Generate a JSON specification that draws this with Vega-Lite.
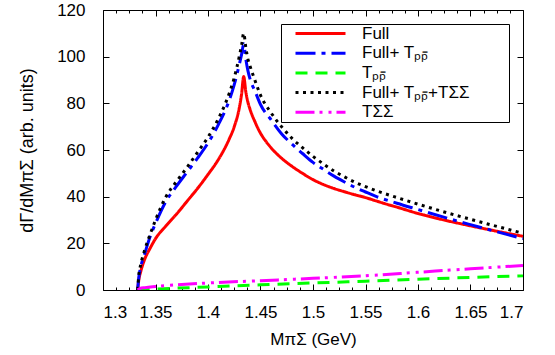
{
  "$schema": "https://vega.github.io/schema/vega-lite/v6.json",
  "width": 420,
  "height": 280,
  "autosize": {"type": "none"},
  "padding": {"left": 103, "top": 10, "right": 32, "bottom": 65},
  "config": {
    "view": {"stroke": "black", "strokeWidth": 1},
    "font": "Liberation Sans",
    "axis": {
      "grid": false,
      "domain": false,
      "labelFont": "Liberation Sans",
      "labelFontSize": 17,
      "labelColor": "black",
      "tickColor": "black",
      "titleFont": "Liberation Sans",
      "titleFontSize": 17,
      "titleFontWeight": "normal",
      "titleColor": "black"
    }
  },
  "data": {
    "values": [
      {"c": "Full", "m": 1.333, "v": 0}, {"c": "Full", "m": 1.334, "v": 4}, {"c": "Full", "m": 1.336, "v": 8},
      {"c": "Full", "m": 1.34, "v": 13.5}, {"c": "Full", "m": 1.345, "v": 18}, {"c": "Full", "m": 1.35, "v": 22},
      {"c": "Full", "m": 1.36, "v": 27.5}, {"c": "Full", "m": 1.37, "v": 32.5}, {"c": "Full", "m": 1.38, "v": 38},
      {"c": "Full", "m": 1.39, "v": 43.5}, {"c": "Full", "m": 1.4, "v": 49.5}, {"c": "Full", "m": 1.41, "v": 56},
      {"c": "Full", "m": 1.42, "v": 64.5}, {"c": "Full", "m": 1.425, "v": 70}, {"c": "Full", "m": 1.43, "v": 78.5},
      {"c": "Full", "m": 1.432, "v": 84}, {"c": "Full", "m": 1.434, "v": 91.5}, {"c": "Full", "m": 1.436, "v": 85},
      {"c": "Full", "m": 1.438, "v": 80.5}, {"c": "Full", "m": 1.44, "v": 77.5}, {"c": "Full", "m": 1.445, "v": 71.8},
      {"c": "Full", "m": 1.45, "v": 67.2}, {"c": "Full", "m": 1.455, "v": 63.8}, {"c": "Full", "m": 1.46, "v": 61}, {"c": "Full", "m": 1.47, "v": 56.5},
      {"c": "Full", "m": 1.48, "v": 53}, {"c": "Full", "m": 1.49, "v": 50}, {"c": "Full", "m": 1.5, "v": 47.3},
      {"c": "Full", "m": 1.51, "v": 45.2}, {"c": "Full", "m": 1.52, "v": 43.5}, {"c": "Full", "m": 1.53, "v": 42.1},
      {"c": "Full", "m": 1.54, "v": 40.8}, {"c": "Full", "m": 1.55, "v": 39.6}, {"c": "Full", "m": 1.56, "v": 38.2},
      {"c": "Full", "m": 1.57, "v": 36.8}, {"c": "Full", "m": 1.58, "v": 35.5}, {"c": "Full", "m": 1.6, "v": 32.8},
      {"c": "Full", "m": 1.62, "v": 30.5}, {"c": "Full", "m": 1.65, "v": 27.5}, {"c": "Full", "m": 1.7, "v": 23},

      {"c": "Full+ Tₚₚ̄", "m": 1.333, "v": 0}, {"c": "Full+ Tₚₚ̄", "m": 1.334, "v": 5}, {"c": "Full+ Tₚₚ̄", "m": 1.336, "v": 10},
      {"c": "Full+ Tₚₚ̄", "m": 1.34, "v": 16}, {"c": "Full+ Tₚₚ̄", "m": 1.345, "v": 23}, {"c": "Full+ Tₚₚ̄", "m": 1.35, "v": 28.5},
      {"c": "Full+ Tₚₚ̄", "m": 1.36, "v": 38}, {"c": "Full+ Tₚₚ̄", "m": 1.37, "v": 44.5}, {"c": "Full+ Tₚₚ̄", "m": 1.38, "v": 50.5},
      {"c": "Full+ Tₚₚ̄", "m": 1.39, "v": 56.5}, {"c": "Full+ Tₚₚ̄", "m": 1.4, "v": 63}, {"c": "Full+ Tₚₚ̄", "m": 1.41, "v": 71},
      {"c": "Full+ Tₚₚ̄", "m": 1.42, "v": 81}, {"c": "Full+ Tₚₚ̄", "m": 1.425, "v": 88}, {"c": "Full+ Tₚₚ̄", "m": 1.43, "v": 97},
      {"c": "Full+ Tₚₚ̄", "m": 1.432, "v": 101}, {"c": "Full+ Tₚₚ̄", "m": 1.434, "v": 105.5}, {"c": "Full+ Tₚₚ̄", "m": 1.436, "v": 99},
      {"c": "Full+ Tₚₚ̄", "m": 1.438, "v": 94}, {"c": "Full+ Tₚₚ̄", "m": 1.44, "v": 90.5}, {"c": "Full+ Tₚₚ̄", "m": 1.445, "v": 85},
      {"c": "Full+ Tₚₚ̄", "m": 1.45, "v": 79.5}, {"c": "Full+ Tₚₚ̄", "m": 1.46, "v": 73}, {"c": "Full+ Tₚₚ̄", "m": 1.47, "v": 67},
      {"c": "Full+ Tₚₚ̄", "m": 1.48, "v": 62.5}, {"c": "Full+ Tₚₚ̄", "m": 1.49, "v": 58.5}, {"c": "Full+ Tₚₚ̄", "m": 1.5, "v": 54.7},
      {"c": "Full+ Tₚₚ̄", "m": 1.51, "v": 51.7}, {"c": "Full+ Tₚₚ̄", "m": 1.52, "v": 48.8}, {"c": "Full+ Tₚₚ̄", "m": 1.53, "v": 46.3},
      {"c": "Full+ Tₚₚ̄", "m": 1.54, "v": 44}, {"c": "Full+ Tₚₚ̄", "m": 1.55, "v": 42}, {"c": "Full+ Tₚₚ̄", "m": 1.56, "v": 40.1},
      {"c": "Full+ Tₚₚ̄", "m": 1.58, "v": 37.2}, {"c": "Full+ Tₚₚ̄", "m": 1.6, "v": 34.5}, {"c": "Full+ Tₚₚ̄", "m": 1.63, "v": 30.5},
      {"c": "Full+ Tₚₚ̄", "m": 1.65, "v": 28}, {"c": "Full+ Tₚₚ̄", "m": 1.7, "v": 22},

      {"c": "Tₚₚ̄", "m": 1.333, "v": 0}, {"c": "Tₚₚ̄", "m": 1.35, "v": 0.4}, {"c": "Tₚₚ̄", "m": 1.4, "v": 1.3},
      {"c": "Tₚₚ̄", "m": 1.45, "v": 2.2}, {"c": "Tₚₚ̄", "m": 1.5, "v": 3.0}, {"c": "Tₚₚ̄", "m": 1.55, "v": 3.8},
      {"c": "Tₚₚ̄", "m": 1.6, "v": 4.6}, {"c": "Tₚₚ̄", "m": 1.65, "v": 5.4}, {"c": "Tₚₚ̄", "m": 1.7, "v": 6.1},

      {"c": "Full+ Tₚₚ̄+TΣΣ", "m": 1.333, "v": 0}, {"c": "Full+ Tₚₚ̄+TΣΣ", "m": 1.334, "v": 6}, {"c": "Full+ Tₚₚ̄+TΣΣ", "m": 1.336, "v": 11},
      {"c": "Full+ Tₚₚ̄+TΣΣ", "m": 1.34, "v": 17.5}, {"c": "Full+ Tₚₚ̄+TΣΣ", "m": 1.345, "v": 24}, {"c": "Full+ Tₚₚ̄+TΣΣ", "m": 1.35, "v": 30},
      {"c": "Full+ Tₚₚ̄+TΣΣ", "m": 1.36, "v": 40}, {"c": "Full+ Tₚₚ̄+TΣΣ", "m": 1.37, "v": 46.5}, {"c": "Full+ Tₚₚ̄+TΣΣ", "m": 1.38, "v": 52.5},
      {"c": "Full+ Tₚₚ̄+TΣΣ", "m": 1.39, "v": 59}, {"c": "Full+ Tₚₚ̄+TΣΣ", "m": 1.4, "v": 65.5}, {"c": "Full+ Tₚₚ̄+TΣΣ", "m": 1.41, "v": 73.5},
      {"c": "Full+ Tₚₚ̄+TΣΣ", "m": 1.42, "v": 84}, {"c": "Full+ Tₚₚ̄+TΣΣ", "m": 1.425, "v": 91}, {"c": "Full+ Tₚₚ̄+TΣΣ", "m": 1.43, "v": 100.5},
      {"c": "Full+ Tₚₚ̄+TΣΣ", "m": 1.432, "v": 105}, {"c": "Full+ Tₚₚ̄+TΣΣ", "m": 1.434, "v": 110}, {"c": "Full+ Tₚₚ̄+TΣΣ", "m": 1.436, "v": 104},
      {"c": "Full+ Tₚₚ̄+TΣΣ", "m": 1.438, "v": 99}, {"c": "Full+ Tₚₚ̄+TΣΣ", "m": 1.44, "v": 96}, {"c": "Full+ Tₚₚ̄+TΣΣ", "m": 1.445, "v": 89.5},
      {"c": "Full+ Tₚₚ̄+TΣΣ", "m": 1.45, "v": 83.5}, {"c": "Full+ Tₚₚ̄+TΣΣ", "m": 1.46, "v": 76}, {"c": "Full+ Tₚₚ̄+TΣΣ", "m": 1.47, "v": 70},
      {"c": "Full+ Tₚₚ̄+TΣΣ", "m": 1.48, "v": 65}, {"c": "Full+ Tₚₚ̄+TΣΣ", "m": 1.49, "v": 61}, {"c": "Full+ Tₚₚ̄+TΣΣ", "m": 1.5, "v": 57.3},
      {"c": "Full+ Tₚₚ̄+TΣΣ", "m": 1.51, "v": 54}, {"c": "Full+ Tₚₚ̄+TΣΣ", "m": 1.52, "v": 51}, {"c": "Full+ Tₚₚ̄+TΣΣ", "m": 1.53, "v": 48.5},
      {"c": "Full+ Tₚₚ̄+TΣΣ", "m": 1.54, "v": 46.2}, {"c": "Full+ Tₚₚ̄+TΣΣ", "m": 1.55, "v": 44.3}, {"c": "Full+ Tₚₚ̄+TΣΣ", "m": 1.56, "v": 42.6},
      {"c": "Full+ Tₚₚ̄+TΣΣ", "m": 1.58, "v": 39.6}, {"c": "Full+ Tₚₚ̄+TΣΣ", "m": 1.6, "v": 36.8}, {"c": "Full+ Tₚₚ̄+TΣΣ", "m": 1.63, "v": 32.8},
      {"c": "Full+ Tₚₚ̄+TΣΣ", "m": 1.65, "v": 30.3}, {"c": "Full+ Tₚₚ̄+TΣΣ", "m": 1.7, "v": 24.3},

      {"c": "TΣΣ", "m": 1.333, "v": 0}, {"c": "TΣΣ", "m": 1.335, "v": 0.6}, {"c": "TΣΣ", "m": 1.34, "v": 1.0},
      {"c": "TΣΣ", "m": 1.35, "v": 1.5}, {"c": "TΣΣ", "m": 1.4, "v": 3.0}, {"c": "TΣΣ", "m": 1.45, "v": 4.0},
      {"c": "TΣΣ", "m": 1.5, "v": 5.0}, {"c": "TΣΣ", "m": 1.55, "v": 6.1}, {"c": "TΣΣ", "m": 1.6, "v": 7.6},
      {"c": "TΣΣ", "m": 1.65, "v": 9.1}, {"c": "TΣΣ", "m": 1.7, "v": 10.5}
    ]
  },
  "layer": [
    {
      "mark": {"type": "line", "strokeWidth": 3, "clip": true, "interpolate": "monotone"},
      "encoding": {
        "x": {"field": "m", "type": "quantitative", "scale": {"domain": [1.3, 1.7], "nice": false, "zero": false},
          "axis": {"orient": "bottom", "title": "MπΣ (GeV)", "values": [1.3, 1.35, 1.4, 1.45, 1.5, 1.55, 1.6, 1.65, 1.7], "format": "~g", "tickSize": -6, "labelPadding": 20, "titlePadding": 11}},
        "y": {"field": "v", "type": "quantitative", "scale": {"domain": [0, 120], "nice": false},
          "axis": {"orient": "left", "title": "dΓ/dMπΣ (arb. units)", "values": [0, 20, 40, 60, 80, 100, 120], "tickSize": -6, "labelPadding": 24, "titleX": -67, "titleFontSize": 18}},
        "color": {"field": "c", "type": "nominal",
          "scale": {"domain": ["Full", "Full+ Tₚₚ̄", "Tₚₚ̄", "Full+ Tₚₚ̄+TΣΣ", "TΣΣ"], "range": ["#ff0000", "#0000ff", "#00ff00", "#000000", "#ff00ff"]},
          "legend": {"orient": "none", "legendX": 178, "legendY": 14, "title": null, "strokeColor": "black", "fillColor": "white",
            "padding": 1, "symbolType": "M-5,0H5", "symbolSize": 100, "symbolStrokeWidth": 3, "symbolOffset": 30,
            "labelFont": "Liberation Sans", "labelFontSize": 17, "labelColor": "black", "labelOffset": 33, "rowPadding": 1.7,
            "labelExpr": "datum.label == 'Full+ Tₚₚ̄+TΣΣ' ? datum.label + '\u00a0\u00a0\u00a0\u00a0\u00a0\u00a0\u00a0\u00a0\u200b' : datum.label"}},
        "strokeDash": {"field": "c", "type": "nominal",
          "scale": {"domain": ["Full", "Full+ Tₚₚ̄", "Tₚₚ̄", "Full+ Tₚₚ̄+TΣΣ", "TΣΣ"], "range": [[1, 0], [20, 6, 4, 6], [12, 8], [3, 4.5], [19, 5, 3, 6, 3, 5]]},
          "legend": null}
      }
    },
    {
      "mark": {"type": "line", "strokeOpacity": 0},
      "encoding": {
        "x": {"field": "m", "type": "quantitative", "scale": {"domain": [1.3, 1.7], "nice": false, "zero": false},
          "axis": {"orient": "top", "title": null, "labels": false, "values": [1.3, 1.35, 1.4, 1.45, 1.5, 1.55, 1.6, 1.65, 1.7], "tickSize": -6}},
        "y": {"field": "v", "type": "quantitative", "scale": {"domain": [0, 120], "nice": false},
          "axis": {"orient": "right", "title": null, "labels": false, "values": [0, 20, 40, 60, 80, 100, 120], "tickSize": -6}}
      }
    },
    {
      "mark": {"type": "line", "strokeOpacity": 0},
      "encoding": {
        "x": {"field": "m", "type": "quantitative", "scale": {"domain": [1.3, 1.7], "nice": false, "zero": false},
          "axis": {"orient": "bottom", "title": null, "labels": false, "values": [1.3125, 1.325, 1.3375, 1.3625, 1.375, 1.3875, 1.4125, 1.425, 1.4375, 1.4625, 1.475, 1.4875, 1.5125, 1.525, 1.5375, 1.5625, 1.575, 1.5875, 1.6125, 1.625, 1.6375, 1.6625, 1.675, 1.6875], "tickSize": -3}},
        "y": {"field": "v", "type": "quantitative", "scale": {"domain": [0, 120], "nice": false}, "axis": null}
      }
    },
    {
      "mark": {"type": "line", "strokeOpacity": 0},
      "encoding": {
        "x": {"field": "m", "type": "quantitative", "scale": {"domain": [1.3, 1.7], "nice": false, "zero": false},
          "axis": {"orient": "top", "title": null, "labels": false, "values": [1.3125, 1.325, 1.3375, 1.3625, 1.375, 1.3875, 1.4125, 1.425, 1.4375, 1.4625, 1.475, 1.4875, 1.5125, 1.525, 1.5375, 1.5625, 1.575, 1.5875, 1.6125, 1.625, 1.6375, 1.6625, 1.675, 1.6875], "tickSize": -3}},
        "y": {"field": "v", "type": "quantitative", "scale": {"domain": [0, 120], "nice": false}, "axis": null}
      }
    }
  ],
  "resolve": {"axis": {"x": "independent", "y": "independent"}}
}
